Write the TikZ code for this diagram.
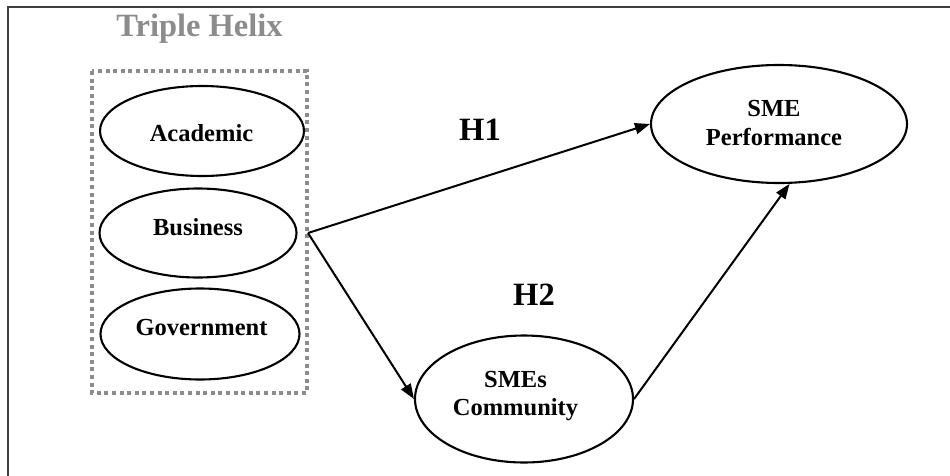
\documentclass[tikz,border=0pt]{standalone}
\usepackage{fontspec}
\setmainfont{Liberation Serif}
\usetikzlibrary{arrows.meta,shapes.geometric}
\definecolor{helixgray}{HTML}{8C8C8C}
\definecolor{framegray}{HTML}{404040}
\tikzset{
  oval/.style={draw=black, line width=2.1pt, ellipse, inner sep=0pt},
  lbl/.style={font=\fontsize{24.5}{28.5}\selectfont\bfseries, inner sep=0pt, align=center},
  hlbl/.style={font=\fontsize{32.5}{37}\selectfont\bfseries, inner sep=0pt},
  link/.style={line width=2pt, -{Triangle[length=15pt,width=11pt]}},
}
\begin{document}
\begin{tikzpicture}[x=1pt,y=-1pt]
\useasboundingbox (0,0) rectangle (950,476);
\fill[white] (0,0) rectangle (950,476);
% frame
\draw[framegray, line width=1.8pt] (8,476) -- (8,7) -- (950,7);
% title
\node[hlbl, text=helixgray, anchor=base] (title) at (199.5,37) {Triple Helix};
% dotted group
\draw[helixgray, line width=3.5pt, dash pattern=on 4pt off 3.6pt] (92,71) rectangle (307,393);
% ellipses
\node[oval, minimum width=204pt, minimum height=90pt] (acad) at (202,131) {};
\node[oval, minimum width=197pt, minimum height=89pt] (bus) at (198,233) {};
\node[oval, minimum width=199pt, minimum height=91pt] (gov) at (200,334) {};
\node[oval, minimum width=256pt, minimum height=118pt] (perf) at (779,124) {};
\node[oval, minimum width=218pt, minimum height=127pt] (comm) at (524,399) {};
% labels
\node[lbl, anchor=base] (acadt) at (201.5,142) {Academic};
\node[lbl, anchor=base] (bust) at (198,235) {Business};
\node[lbl, anchor=base] (govt) at (201.5,335) {Government};
\node[lbl] (perft) at (774,123) {SME\\Performance};
\node[lbl] (commt) at (515.5,396) {SMEs\\Community};
\node[hlbl, anchor=base] (h1) at (480,140) {H1};
\node[hlbl, anchor=base] (h2) at (534,305) {H2};
% connectors
\coordinate (src) at (308,233);
\draw[link] (src) -- (perf.west);
\draw[link] (src) -- (comm.west);
\draw[link] (comm.east) -- (perf.-80);
\end{tikzpicture}
\end{document}
